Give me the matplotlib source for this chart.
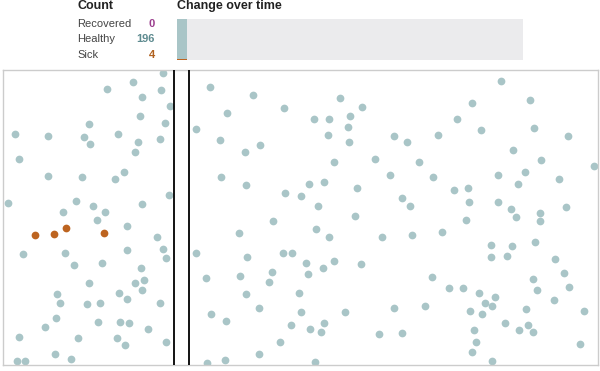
import matplotlib.pyplot as plt

# counts shown in the header
count_labels = ['Recovered', 'Healthy', 'Sick']
count_values = [0, 196, 4]

# change over time: only the first step so far
steps = [0]
sick_over_time = [4]
healthy_over_time = [196]
recovered_over_time = [0]
n_steps_total = 35

# positions of the people (pixel-like units of the simulation field)
healthy_x = [133.3, 107.3, 142.3, 140, 89, 15, 48.3, 84.3, 90, 118.3, 138, 135.3,
             18.7, 48.3, 81.7, 124.3, 115, 8, 76, 63.3, 93, 105.3, 142, 96.7,
             163.3, 160.7, 170.3, 165.3, 159.7, 169.3, 210, 253.3, 283.7, 226.7,
             196, 219.7, 260, 245.3, 220.7, 246, 284.7, 300.5, 273,
             340, 361.7, 313.7, 328.7, 350, 348, 328, 349, 394, 406.7, 438.3,
             334.3, 375.3, 418.7, 390.3, 432.7, 308.7, 324, 357.3, 317.7, 402,
             410.3, 354.7,
             501, 472.3, 530, 456.7, 480.7, 534.3, 567.7, 513, 541, 594, 497.7,
             525.3, 517.7, 558.7, 453.7, 468, 469.3, 498, 511, 540, 565.7, 516.3,
             540, 465.7,
             126.7, 22.7, 64.7, 126.7, 73.7, 102, 141, 89, 135, 143.7, 141.7,
             119, 127, 57.3, 59.7, 87.3, 100.3, 56.3, 45, 98.3, 119.7, 129, 148,
             19, 78.3, 117, 125, 54.7, 71, 17.3, 25,
             156.7, 163, 165.7, 160, 166, 239.3, 196, 246.7, 283, 292.3, 205.7,
             240, 272, 268.7, 246.3, 299.3, 259, 210.7, 226.3, 291.3, 279.7, 259,
             225, 207, 301,
             315.7, 329, 382.3, 412.3, 441.7, 306, 333.7, 323.3, 308.3, 361.3,
             431.7, 449, 345.3, 394, 425.3, 323.7, 309.7, 320.7, 379, 402.3, 315,
             491.3, 512, 535.3, 491.3, 506.7, 555.3, 532.7, 564.3, 537.3, 569,
             463.3, 479.3, 495.3, 553.7, 484.7, 492.3, 470.3, 481.7, 526, 584.3,
             504.7, 528, 518.7, 532.7, 474, 476.3, 580, 472, 491.7]
healthy_y = [82.3, 89.3, 96.7, 116.3, 124.3, 134, 135.7, 137, 143.7, 133.7, 142.3, 152.3,
             159.3, 176.3, 176.7, 172.3, 179.3, 203, 201, 212, 205.7, 212.3, 204, 220.3,
             73.3, 90, 106, 123.3, 139.3, 195, 87, 94.7, 108, 112.7,
             128.7, 139.7, 144.7, 151.7, 176.7, 185, 192.7, 195.7, 221,
             98.3, 107, 119.3, 119, 116.3, 127.3, 134.7, 142.3, 136, 142, 135.3,
             162.3, 159, 161.7, 174.7, 176.7, 183.7, 182.3, 187.7, 206.3, 198,
             206.3, 216,
             81, 102.7, 100.3, 119.3, 130, 127.7, 136, 150, 160.3, 166, 175.3,
             171.7, 183.7, 179.3, 189.7, 188.3, 201.7, 201.7, 209.3, 212.7, 206.7, 217,
             221, 220,
             225.7, 254.3, 253.3, 250, 265.3, 262.7, 267.7, 282.7, 282.7, 280, 290,
             293, 299, 294.3, 303.3, 304.3, 303, 317.7, 326.7, 322, 322, 322.7, 328.5,
             337.3, 337.7, 338.3, 344.7, 353.7, 359.3, 360.7, 360.7,
             237.3, 249.3, 258, 303, 342.3, 232.7, 253, 257.3, 252.7, 253.3, 277.7,
             276.3, 271.7, 282.3, 293.7, 293.3, 308, 314, 321.3, 325.3, 342, 354.3,
             359.7, 363, 311.5,
             228.7, 237.3, 237.3, 234.7, 232, 262.7, 261, 268.3, 273.7, 263.7,
             277.3, 288.3, 311.7, 308, 305.7, 323.3, 329, 331.7, 334, 333, 362.3,
             244.7, 246.3, 241.7, 256.7, 256, 259.3, 278.7, 273.3, 290, 287,
             288.3, 293, 297, 299.7, 303.3, 306.3, 311, 313.7, 308.7, 310.7,
             323.3, 325, 330, 332.3, 329.7, 341.7, 344.3, 352, 360.7]

sick_x = [35.3, 53.7, 66, 103.7]
sick_y = [234.7, 233.7, 228, 233.3]

# quarantine walls
wall_x = [174.3, 189.3]

c_healthy = '#a9c5c7'
c_sick = '#bd6420'
c_recovered = '#9b3f8e'
num_colors = [c_recovered, '#5e8b90', '#b0611f']

W, H = 600, 371
fig = plt.figure(figsize=(6, 3.71), dpi=100)
plt.rcParams['font.family'] = ['Liberation Sans', 'DejaVu Sans']

# header: counts
fig.text(77 / W, 1 - 6 / H, 'Count', fontsize=9, fontweight='bold',
         color='#222222', va='center', ha='left')
row_y = [24, 39.5, 55]
for lab, val, col, y in zip(count_labels, count_values, num_colors, row_y):
    fig.text(77 / W, 1 - y / H, lab, fontsize=8, color='#444444', va='center', ha='left')
    fig.text(155 / W, 1 - y / H, str(val), fontsize=8, fontweight='bold',
             color=col, va='center', ha='right')

fig.text(177 / W, 1 - 6 / H, 'Change over time', fontsize=9, fontweight='bold',
         color='#222222', va='center', ha='left')

# header: change over time
ax_t = fig.add_axes([177 / W, 1 - 59.5 / H, (523 - 177) / W, 40.5 / H])
ax_t.set_facecolor('#ebebed')
ax_t.bar(steps, sick_over_time, width=1, align='edge', color=c_sick)
ax_t.bar(steps, healthy_over_time, width=1, align='edge', bottom=sick_over_time,
         color=c_healthy)
ax_t.bar(steps, recovered_over_time, width=1, align='edge',
         bottom=[s + h for s, h in zip(sick_over_time, healthy_over_time)],
         color=c_recovered)
ax_t.set_xlim(0, n_steps_total)
ax_t.set_ylim(0, sum(count_values))
ax_t.set_xticks([])
ax_t.set_yticks([])
for sp in ax_t.spines.values():
    sp.set_visible(False)

# simulation field
ax = fig.add_axes([3 / W, 1 - 365 / H, (598 - 3) / W, (365 - 70) / H])
ax.set_xlim(3, 598)
ax.set_ylim(365, 70)
ax.scatter(healthy_x, healthy_y, s=31, color=c_healthy, linewidths=0, zorder=2)
ax.scatter(sick_x, sick_y, s=31, color=c_sick, linewidths=0, zorder=3)
for x in wall_x:
    ax.axvline(x, color='black', lw=1.3, zorder=4)
ax.set_xticks([])
ax.set_yticks([])
for sp in ax.spines.values():
    sp.set_color('#cccccc')
    sp.set_linewidth(1)

fig.savefig('out.png', dpi=100)
